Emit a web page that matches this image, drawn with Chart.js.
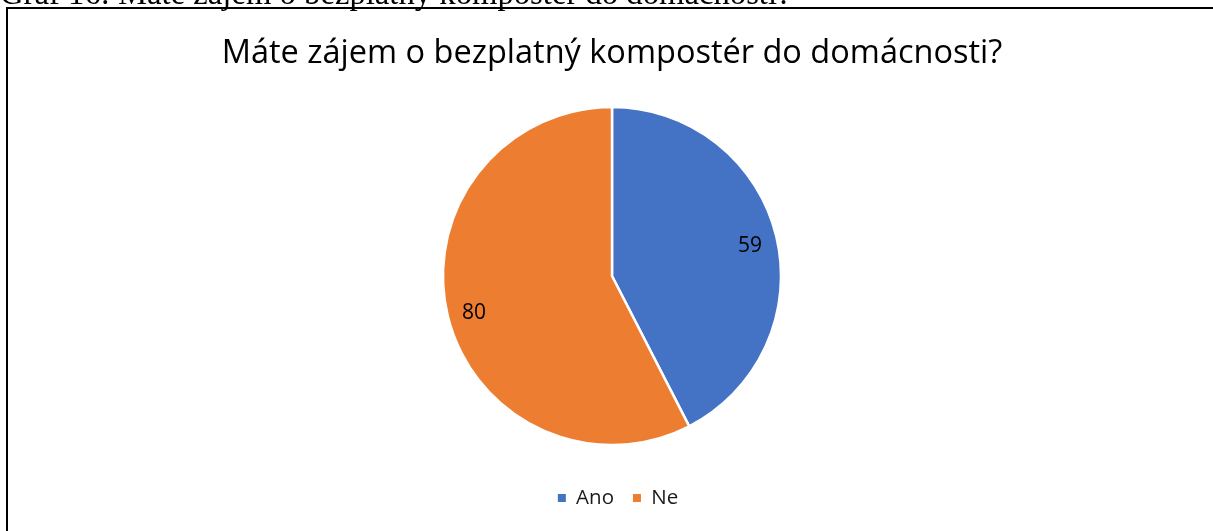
<!DOCTYPE html>
<html>
<head>
<meta charset="utf-8">
<script src="https://cdn.jsdelivr.net/npm/chart.js@4"></script>
<style>
  html, body { margin: 0; padding: 0; background: #fff; overflow: hidden; }
  #wrap { position: relative; width: 1213px; height: 531px; }
  canvas { display: block; }
</style>
</head>
<body>
<div id="wrap"><canvas id="c" width="1213" height="531"></canvas></div>
<script>
const categories = ["Ano", "Ne"];
const values = [59, 80];
const colors = ["#4472C4", "#ED7D31"];
const chartTitle = "Máte zájem o bezplatný kompostér do domácnosti?";
const captionText = "Graf 16: Máte zájem o bezplatný kompostér do domácnosti?";

const framePlugin = {
  id: 'frame',
  beforeDraw(chart) {
    const ctx = chart.ctx;
    ctx.save();
    ctx.fillStyle = '#fff';
    ctx.fillRect(0, 0, chart.width, chart.height);
    ctx.fillStyle = '#000';
    let size = 24;
    ctx.font = size + 'px "Liberation Serif", serif';
    const w = ctx.measureText(captionText).width;
    size = size * 792 / w;
    ctx.font = size + 'px "Liberation Serif", serif';
    ctx.textBaseline = 'alphabetic';
    ctx.textAlign = 'left';
    ctx.fillText(captionText, 0, 4);
    ctx.fillRect(6, 7, chart.width - 6, 2);
    ctx.fillRect(6, 7, 2, chart.height - 7);
    ctx.restore();
  },
  afterLayout(chart) {
    if (chart.legend) {
      chart.legend.left += 6;
      chart.legend.right += 6;
    }
  }
};

const labelPlugin = {
  id: 'sliceLabels',
  afterDatasetsDraw(chart) {
    const ctx = chart.ctx;
    const meta = chart.getDatasetMeta(0);
    ctx.save();
    ctx.font = '21px "Open Sans", sans-serif';
    ctx.fillStyle = '#000';
    ctx.textAlign = 'center';
    ctx.textBaseline = 'alphabetic';
    meta.data.forEach((arc, i) => {
      const p = arc.getProps(['x', 'y', 'startAngle', 'endAngle', 'outerRadius'], true);
      const a = (p.startAngle + p.endAngle) / 2;
      const r = p.outerRadius * 0.84;
      ctx.fillText(String(chart.data.datasets[0].data[i]), p.x + Math.cos(a) * r, p.y + Math.sin(a) * r + 9.5);
    });
    ctx.restore();
  }
};

new Chart(document.getElementById('c'), {
  type: 'pie',
  data: {
    labels: categories,
    datasets: [{
      data: values,
      backgroundColor: colors,
      borderColor: '#fff',
      borderWidth: 2.5,
      hoverOffset: 0
    }]
  },
  options: {
    responsive: false,
    animation: false,
    radius: 169,
    layout: { padding: { left: 11, right: 0, top: 0, bottom: 12.75 } },
    plugins: {
      title: {
        display: true,
        text: chartTitle,
        color: '#000',
        font: { family: '"Open Sans", sans-serif', size: 32.5, weight: 'normal' },
        padding: { top: 34, bottom: 10.25 }
      },
      legend: {
        display: true,
        position: 'bottom',
        labels: {
          color: '#1a1a1a',
          font: { family: '"Open Sans", sans-serif', size: 20.5 },
          boxWidth: 8,
          boxHeight: 8,
          padding: 19,
          generateLabels(chart) {
            const items = Chart.controllers.pie.overrides.plugins.legend.labels.generateLabels(chart);
            items.forEach(it => { it.lineWidth = 0; it.strokeStyle = it.fillStyle; });
            return items;
          }
        }
      },
      tooltip: { enabled: false }
    }
  },
  plugins: [framePlugin, labelPlugin]
});
</script>
</body>
</html>
